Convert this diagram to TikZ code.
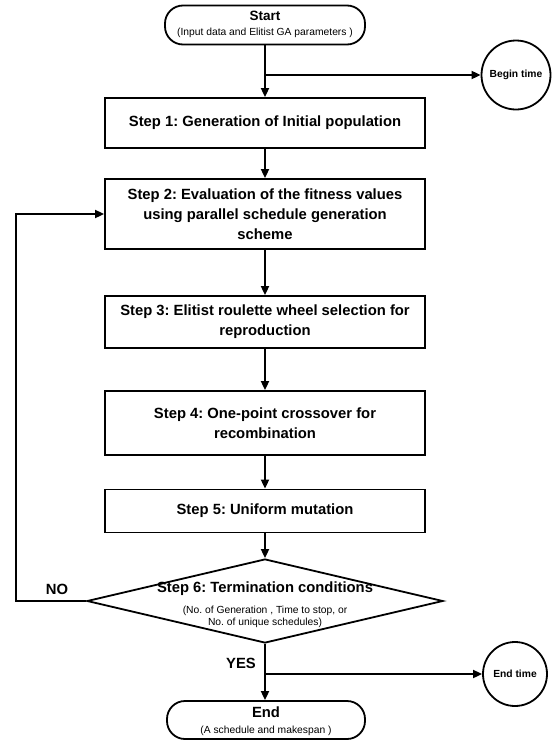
\documentclass[tikz,border=0pt]{standalone}
\usepackage{fontspec}
\setmainfont{Liberation Sans}
\usetikzlibrary{shapes.geometric,arrows.meta}
\begin{document}
\frenchspacing
\begin{tikzpicture}[x=1pt,y=-1pt,line width=1.8pt,
  box/.style={draw,line width=1.8pt,minimum width=320pt,align=center,inner sep=0pt,
    font=\bfseries\fontsize{14.8}{20}\selectfont},
  term/.style={draw,rounded corners=18pt,align=center,inner sep=0pt},
  ring/.style={draw,circle,inner sep=0pt,align=center,font=\bfseries\fontsize{10.3}{12}\selectfont},
  lbl/.style={font=\bfseries\fontsize{14.8}{17}\selectfont,inner sep=0pt},
  small/.style={font=\fontsize{10.3}{12}\selectfont,align=center,inner sep=0pt},
  arr/.style={-{Triangle[length=9pt,width=8pt]}}]
\useasboundingbox (0,0) rectangle (554,742);
% terminators
\node[term,minimum width=200pt,minimum height=39pt] (st) at (265,25) {};
\node[lbl,font=\bfseries\fontsize{13.5}{15}\selectfont] (stt) at (265,16) {Start};
\node[small] (sts) at (265,33) {(Input data and Elitist GA parameters )};
\node[ring,minimum size=69pt] (bt) at (516,75) {Begin time};
% steps
\node[box,minimum height=50pt] (s1) at (265,123) {Step 1: Generation of Initial population};
\node[box,minimum height=70pt] (s2) at (265,214) {Step 2: Evaluation of the fitness values\\using parallel schedule generation\\scheme};
\node[box,minimum height=52pt] (s3) at (265,322) {Step 3: Elitist roulette wheel selection for\\reproduction};
\node[box,minimum height=64pt] (s4) at (265,423) {Step 4: One-point crossover for\\recombination};
\node[box,minimum height=43pt] (s5) at (265,511) {Step 5: Uniform mutation};
% decision
\node[draw,diamond,minimum width=356pt,minimum height=84pt,inner sep=0pt,aspect=4.2] (d) at (265,601) {};
\node[lbl] (d1) at (265,589) {Step 6: Termination conditions};
\node[small] (d2) at (265,617) {(No. of Generation , Time to stop, or\\No. of unique schedules)};
\node[lbl] (no) at (57,589) {NO};
\node[lbl] (yes) at (241,663) {YES};
% end
\node[term,minimum width=198pt,minimum height=38pt] (en) at (266,720) {};
\node[lbl] (ent) at (266,712) {End};
\node[small] (ens) at (266,731) {(A schedule and makespan )};
\node[ring,minimum size=64pt] (et) at (515,674) {End time};
% connectors
\coordinate (b1) at (st.south |- bt);
\coordinate (b2) at (d.south |- et);
\coordinate (lp) at (16,0);
\draw[arr] (st.south) -- (st.south |- s1.north);
\draw[arr] (b1) -- (bt.west);
\draw[arr] (s1) -- (s2);
\draw[arr] (s2) -- (s3);
\draw[arr] (s3) -- (s4);
\draw[arr] (s4) -- (s5);
\draw[arr] (s5.south) -- (d.north);
\draw[arr] (d.west) -- (d.west -| lp) |- (s2.west);
\draw[arr] (d.south) -- (d.south |- en.north);
\draw[arr] (b2) -- (et.west);
\end{tikzpicture}
\end{document}
